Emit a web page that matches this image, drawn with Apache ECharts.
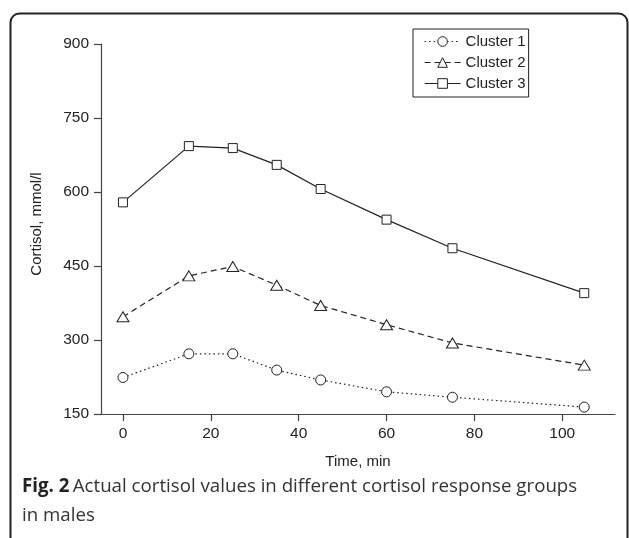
<!DOCTYPE html>
<html>
<head>
<meta charset="utf-8">
<script src="https://cdn.jsdelivr.net/npm/echarts@6/dist/echarts.min.js"></script>
<style>
html,body{margin:0;padding:0;background:#fff;}
#chart{width:629px;height:538px;}
</style>
</head>
<body>
<div id="chart"></div>
<script>
const times = [0, 15, 25, 35, 45, 60, 75, 105];
const cluster1 = [224, 272, 272, 239, 219, 195, 184, 164];
const cluster2 = [347, 430, 449, 411, 370, 331, 294, 249];
const cluster3 = [579, 693, 689, 655, 606, 544, 486, 395];
const xTicks = [0, 20, 40, 60, 80, 100];
const seriesNames = ['Cluster 1', 'Cluster 2', 'Cluster 3'];

const ink = '#222';
const font = 'Liberation Sans, Arial, sans-serif';

function pairs(vals) { return times.map((t, i) => [t, vals[i]]); }

const chart = echarts.init(document.getElementById('chart'), null, {renderer: 'canvas'});
chart.setOption({
  animation: false,
  backgroundColor: '#fff',
  grid: {left: 101, right: 14, top: 44, bottom: 124, containLabel: false},
  legend: {
    left: 413, top: 29, orient: 'vertical',
    data: seriesNames,
    borderColor: ink, borderWidth: 1,
    padding: [5, 3, 6, 11],
    itemWidth: 36, itemHeight: 12, itemGap: 6, itemTextGap: 5,
    itemStyle: {borderWidth: 1},
    lineStyle: {width: 1.2},
    textStyle: {fontFamily: font, fontSize: 15, color: ink}
  },
  xAxis: {
    type: 'value', min: -5, max: 112,
    name: 'Time, min', nameLocation: 'middle', nameGap: 40,
    nameTextStyle: {fontFamily: font, fontSize: 15, color: ink},
    axisLine: {onZero: false, lineStyle: {color: '#444', width: 1.2}},
    axisTick: {length: 7, customValues: xTicks, lineStyle: {color: '#444', width: 1.2}},
    axisLabel: {customValues: xTicks, margin: 12, fontFamily: font, fontSize: 15.5, color: ink},
    splitLine: {show: false}
  },
  yAxis: {
    type: 'value', min: 150, max: 900, interval: 150,
    name: 'Cortisol, mmol/l', nameLocation: 'middle', nameGap: 57,
    nameTextStyle: {fontFamily: font, fontSize: 15, color: ink, padding: [0, 0, 0, 10]},
    axisLine: {show: true, onZero: false, lineStyle: {color: '#444', width: 1.2}},
    axisTick: {show: true, length: 7, lineStyle: {color: '#444', width: 1.2}},
    axisLabel: {margin: 12, fontFamily: font, fontSize: 15.5, color: ink},
    splitLine: {show: false}
  },
  series: [
    {
      name: seriesNames[0], type: 'line', data: pairs(cluster1),
      symbol: 'circle', symbolSize: 10,
      lineStyle: {color: ink, width: 1.2, type: [1.5, 3]},
      itemStyle: {color: '#fff', borderColor: ink, borderWidth: 1}
    },
    {
      name: seriesNames[1], type: 'line', data: pairs(cluster2),
      symbol: 'triangle', symbolSize: [12, 10],
      lineStyle: {color: ink, width: 1.2, type: [6, 4]},
      itemStyle: {color: '#fff', borderColor: ink, borderWidth: 1}
    },
    {
      name: seriesNames[2], type: 'line', data: pairs(cluster3),
      symbol: 'rect', symbolSize: 9,
      lineStyle: {color: ink, width: 1.2, type: 'solid'},
      itemStyle: {color: '#fff', borderColor: ink, borderWidth: 1}
    }
  ],
  graphic: [
    {
      type: 'rect', left: 8, top: 11, silent: true,
      shape: {x: 0, y: 0, width: 617, height: 600, r: 9},
      style: {fill: 'none', stroke: '#222', lineWidth: 2}
    },
    {
      type: 'text', left: 22, top: 472,
      style: {
        rich: {
          b: {fontFamily: 'Open Sans, sans-serif', fontWeight: 'bold', fontSize: 18.7, fill: '#222', lineHeight: 29},
          n: {fontFamily: 'Open Sans, sans-serif', fontSize: 18.7, fill: '#333', lineHeight: 29}
        },
        text: '{b|Fig. 2} {n|Actual cortisol values in different cortisol response groups}\n{n|in males}',
        lineHeight: 29
      }
    }
  ]
});
</script>
</body>
</html>
